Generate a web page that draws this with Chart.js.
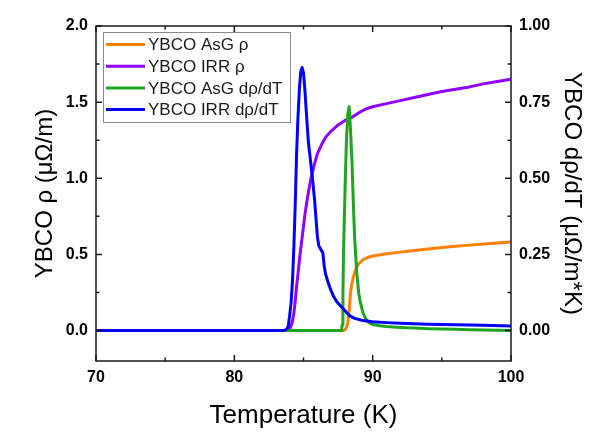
<!DOCTYPE html>
<html>
<head>
<meta charset="utf-8">
<script src="https://cdn.jsdelivr.net/npm/chart.js@4.4.1/dist/chart.umd.min.js"></script>
<style>
  body { margin: 0; background: #fff; }
  #wrap { width: 596px; height: 439px; }
</style>
</head>
<body>
<div id="wrap"><canvas id="chartOne" width="596" height="439"></canvas></div>
<script>
// temperature (K) and values
const asgRhoT = [70, 87.9, 88.0, 88.1, 88.2, 88.3, 88.4, 88.5, 88.6, 88.8, 89.0, 89.3, 89.6, 90, 91, 92, 93, 94, 95, 96, 97, 98, 99, 100];
const asgRho  = [0, 0, 0.005, 0.02, 0.05, 0.13, 0.25, 0.31, 0.35, 0.41, 0.44, 0.465, 0.478, 0.49, 0.505, 0.515, 0.525, 0.535, 0.545, 0.553, 0.561, 0.568, 0.575, 0.582];

const irrRhoT = [70, 83.9, 84.0, 84.1, 84.2, 84.3, 84.4, 84.5, 84.6, 84.75, 84.9, 85.1, 85.3, 85.5, 85.75, 86.0, 86.3, 86.6, 87.0, 87.5, 88.0, 88.5, 89.0, 89.5, 90, 91, 92, 93, 94, 95, 96, 97, 98, 99, 100];
const irrRho  = [0, 0, 0.01, 0.03, 0.06, 0.11, 0.19, 0.29, 0.37, 0.5, 0.61, 0.76, 0.88, 0.98, 1.08, 1.16, 1.22, 1.27, 1.31, 1.35, 1.38, 1.40, 1.43, 1.455, 1.47, 1.49, 1.51, 1.53, 1.55, 1.57, 1.585, 1.60, 1.62, 1.635, 1.65];

const asgDerT = [70, 87.75, 87.8, 87.85, 87.9, 88.0, 88.1, 88.2, 88.3, 88.4, 88.5, 88.6, 88.7, 88.85, 89.0, 89.1, 89.3, 89.5, 89.7, 90, 90.5, 91, 92, 93, 94, 95, 96, 97, 98, 99, 100];
const asgDer  = [0, 0, 0.02, 0.12, 0.27, 0.46, 0.62, 0.71, 0.735, 0.66, 0.56, 0.42, 0.30, 0.19, 0.12, 0.095, 0.058, 0.038, 0.027, 0.02, 0.016, 0.013, 0.01, 0.008, 0.006, 0.005, 0.004, 0.003, 0.002, 0.001, 0];

const irrDerT = [70, 83.6, 83.8, 83.9, 84.0, 84.1, 84.2, 84.3, 84.4, 84.5, 84.6, 84.7, 84.8, 84.9, 85.0, 85.1, 85.2, 85.35, 85.5, 85.6, 85.8, 86.0, 86.1, 86.2, 86.4, 86.5, 86.6, 86.8, 87.0, 87.2, 87.4, 87.6, 88.0, 88.3, 88.7, 89.3, 90, 91, 92, 94, 96, 98, 100];
const irrDer  = [0, 0, 0.005, 0.015, 0.05, 0.09, 0.16, 0.27, 0.41, 0.58, 0.70, 0.79, 0.85, 0.864, 0.845, 0.79, 0.72, 0.62, 0.56, 0.52, 0.43, 0.31, 0.28, 0.27, 0.255, 0.21, 0.185, 0.155, 0.13, 0.11, 0.095, 0.085, 0.065, 0.05, 0.04, 0.033, 0.029, 0.026, 0.024, 0.021, 0.019, 0.017, 0.015];

const labels = ['YBCO AsG ρ', 'YBCO IRR ρ', 'YBCO AsG dρ/dT', 'YBCO IRR dρ/dT'];
const colors = ['#ff8000', '#8f00ff', '#1fa51f', '#0000ff'];

const xTicks = [70, 80, 90, 100];
const xMinor = [75, 85, 95];
const yTicks = [0, 0.5, 1, 1.5, 2];
const yMinor = [0.25, 0.75, 1.25, 1.75];
const y2Ticks = [0, 0.25, 0.5, 0.75, 1];

const FONT = '"Liberation Sans", Arial, sans-serif';

const pts = (xs, ys) => xs.map((x, i) => ({x: x, y: ys[i]}));

const line = (i, data, axis, order) => ({
    label: labels[i],
    data: data,
    yAxisID: axis,
    borderColor: colors[i],
    backgroundColor: colors[i],
    borderWidth: 3,
    borderJoinStyle: 'round',
    borderCapStyle: 'round',
    pointRadius: 0,
    tension: 0,
    order: order
});

// frame, inward tick marks and the legend box
const framePlugin = {
    id: 'frame',
    afterDraw(chart) {
        const ctx = chart.ctx;
        const a = chart.chartArea;
        const sx = chart.scales.x, sy = chart.scales.y;
        ctx.save();
        ctx.strokeStyle = '#1a1a1a';
        ctx.lineWidth = 1.5;
        ctx.strokeRect(a.left, a.top, a.right - a.left, a.bottom - a.top);
        const tick = (vals, len, horiz) => {
            vals.forEach(v => {
                ctx.beginPath();
                if (horiz) {
                    const p = sx.getPixelForValue(v);
                    ctx.moveTo(p, a.bottom); ctx.lineTo(p, a.bottom - len);
                    ctx.moveTo(p, a.top); ctx.lineTo(p, a.top + len);
                } else {
                    const p = sy.getPixelForValue(v);
                    ctx.moveTo(a.left, p); ctx.lineTo(a.left + len, p);
                    ctx.moveTo(a.right, p); ctx.lineTo(a.right - len, p);
                }
                ctx.stroke();
            });
        };
        tick(xTicks, 6, true);
        tick(xMinor, 3.5, true);
        tick(yTicks, 6, false);
        tick(yMinor, 3.5, false);

        // legend
        const lx = a.left + 7, ly = a.top + 6;
        ctx.strokeStyle = '#8a8a8a';
        ctx.lineWidth = 1;
        ctx.fillStyle = '#fff';
        ctx.fillRect(lx, ly, 187, 90);
        ctx.strokeRect(lx + 0.5, ly + 0.5, 187, 90);
        ctx.font = '17px ' + FONT;
        ctx.textBaseline = 'middle';
        chart.data.datasets.forEach((ds, i) => {
            const yy = ly + 12.5 + i * 21.7;
            ctx.strokeStyle = ds.borderColor;
            ctx.lineWidth = 3;
            ctx.beginPath();
            ctx.moveTo(lx + 3, yy); ctx.lineTo(lx + 42, yy);
            ctx.stroke();
            ctx.fillStyle = '#1a1a1a';
            ctx.fillText(ds.label, lx + 45, yy + 1);
        });
        ctx.restore();
    }
};

new Chart(document.getElementById('chartOne'), {
    type: 'line',
    data: {
        datasets: [
            line(0, pts(asgRhoT, asgRho), 'y', 4),
            line(1, pts(irrRhoT, irrRho), 'y', 3),
            line(2, pts(asgDerT, asgDer), 'y2', 2),
            line(3, pts(irrDerT, irrDer), 'y2', 1)
        ]
    },
    options: {
        responsive: false,
        animation: false,
        layout: { padding: { top: 26, left: 0, right: 0, bottom: 0 } },
        plugins: { legend: { display: false }, tooltip: { enabled: false } },
        scales: {
            x: {
                type: 'linear',
                min: 70, max: 100,
                afterBuildTicks: s => { s.ticks = xTicks.map(v => ({value: v})); },
                afterFit: s => { s.height = 78; },
                grid: { display: false, drawTicks: false },
                border: { display: false },
                ticks: { color: '#000', padding: 7, font: { family: FONT, size: 16, weight: 'bold' }, callback: v => String(v) },
                title: { display: true, text: 'Temperature (K)', color: '#000', font: { family: FONT, size: 26 }, padding: { top: 0, bottom: 8 } }
            },
            y: {
                position: 'left',
                min: -0.2, max: 2.0,
                afterBuildTicks: s => { s.ticks = yTicks.map(v => ({value: v})); },
                afterFit: s => { s.width = 96; },
                grid: { display: false, drawTicks: false },
                border: { display: false },
                ticks: { color: '#000', padding: 8, font: { family: FONT, size: 16, weight: 'bold' }, callback: v => v.toFixed(1) },
                title: { display: true, text: 'YBCO ρ (μΩ/m)', color: '#000', font: { family: FONT, size: 24 }, padding: { top: 31, bottom: 0 } }
            },
            y2: {
                position: 'right',
                min: -0.1, max: 1.0,
                afterBuildTicks: s => { s.ticks = y2Ticks.map(v => ({value: v})); },
                afterFit: s => { s.width = 85; },
                grid: { display: false, drawTicks: false },
                border: { display: false },
                ticks: { color: '#000', padding: 8, font: { family: FONT, size: 16, weight: 'bold' }, callback: v => v.toFixed(2) },
                title: { display: true, text: 'YBCO dρ/dT (μΩ/m*K)', color: '#000', font: { family: FONT, size: 24 }, padding: { top: 10, bottom: 0 } }
            }
        }
    },
    plugins: [framePlugin]
});
</script>
</body>
</html>
